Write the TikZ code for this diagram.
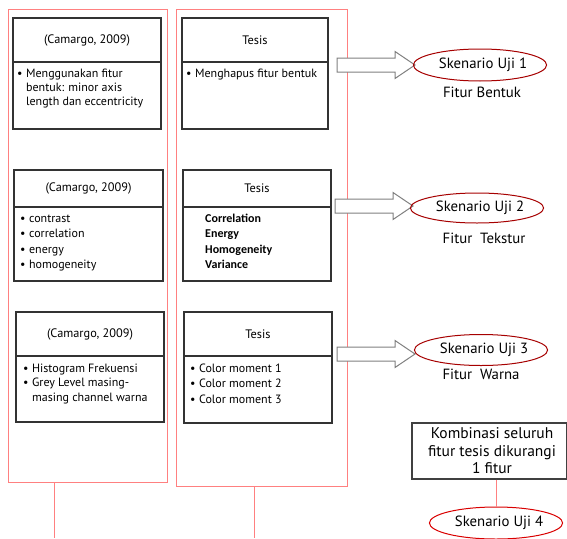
\documentclass[tikz,border=0pt]{standalone}
\usepackage{fontspec}
\setmainfont{PT Sans}
\newfontfamily\calib{Carlito}
\usetikzlibrary{shapes.geometric}
\begin{document}
\begin{tikzpicture}[x=1pt,y=-1pt,
  frame/.style={draw=red!50, line width=1pt, rectangle, inner sep=0pt},
  redline/.style={draw=red!50, line width=1pt},
  hdr/.style={draw=black!80, line width=1.2pt, rectangle, inner sep=0pt, font=\fontsize{12.3}{14}\selectfont},
  bodybox/.style={draw=black!80, line width=1.2pt, rectangle, inner sep=0pt},
  bodytext/.style={anchor=base west, inner sep=0pt},
  ell/.style={draw=red!65!black, line width=1pt, ellipse, inner sep=0pt, font=\fontsize{14.8}{16}\selectfont},
  ellb/.style={ell, draw=red!85!black},
  lbl/.style={inner sep=0pt, font=\fontsize{14.8}{16}\selectfont},
  barrow/.style={draw=black!50, line width=1pt, fill=white},
  kbox/.style={draw=black!75, line width=1.2pt, rectangle, inner sep=0pt, align=center, font=\fontsize{15.5}{17.5}\selectfont}
]
\useasboundingbox (0,0) rectangle (567,538);

% frames
\node[frame, minimum width=159, minimum height=473] (fl) at (87.5,245.5) {};
\node[frame, minimum width=171, minimum height=477] (fm) at (261.5,247.5) {};
\coordinate (bl) at (54,538);
\coordinate (bm) at (254,538);
\draw[redline] (fl.south -| bl) -- (bl);
\draw[redline] (fm.south -| bm) -- (bm);

% row 1
\node[hdr, minimum width=148, minimum height=44] (h1) at (87,40) {(Camargo, 2009)};
\node[bodybox, minimum width=148, minimum height=67] (b1) at (87,95.5) {};
\node[bodytext] (t1) at (17,77) {\fontsize{12}{14}\selectfont\begin{tabular}[t]{@{}l@{\hspace{3.5pt}}l@{}}•&Menggunakan fitur\\&bentuk: minor axis\\&length dan eccentricity\end{tabular}};

\node[hdr, minimum width=146, minimum height=44] (h2) at (255,40) {Tesis};
\node[bodybox, minimum width=146, minimum height=67] (b2) at (255,95.5) {};
\node[bodytext] (t2) at (186,77) {\fontsize{12}{14}\selectfont\begin{tabular}[t]{@{}l@{\hspace{3.5pt}}l@{}}•&Menghapus fitur bentuk\end{tabular}};

% row 2
\node[hdr, minimum width=149, minimum height=37] (h3) at (88.5,188.5) {(Camargo, 2009)};
\node[bodybox, minimum width=149, minimum height=74] (b3) at (88.5,244) {};
\node[bodytext] (t3) at (20,222) {\fontsize{12}{15.5}\selectfont\begin{tabular}[t]{@{}l@{\hspace{3.5pt}}l@{}}•&contrast\\•&correlation\\•&energy\\•&homogeneity\end{tabular}};

\node[hdr, minimum width=148, minimum height=37] (h4) at (257,188.5) {Tesis};
\node[bodybox, minimum width=148, minimum height=74] (b4) at (257,244) {};
\node[bodytext] (t4) at (205,222) {\calib\bfseries\fontsize{12}{15.5}\selectfont\begin{tabular}[t]{@{}l@{}}Correlation\\Energy\\Homogeneity\\Variance\end{tabular}};

% row 3
\node[hdr, minimum width=148, minimum height=44] (h5) at (90,334) {(Camargo, 2009)};
\node[bodybox, minimum width=148, minimum height=66] (b5) at (90,389) {};
\node[bodytext] (t5) at (23,372) {\fontsize{12}{14.5}\selectfont\begin{tabular}[t]{@{}l@{\hspace{3.5pt}}l@{}}•&Histogram Frekuensi\\•&Grey Level masing-\\&masing channel warna\end{tabular}};

\node[hdr, minimum width=148, minimum height=44] (h6) at (258,334) {Tesis};
\node[bodybox, minimum width=148, minimum height=67] (b6) at (258,389.5) {};
\node[bodytext] (t6) at (190,372) {\fontsize{12}{15.5}\selectfont\begin{tabular}[t]{@{}l@{\hspace{3.5pt}}l@{}}•&Color moment 1\\•&Color moment 2\\•&Color moment 3\end{tabular}};

% block arrows
\coordinate (a1) at (337,65);
\coordinate (a2) at (335,206);
\coordinate (a3) at (337,354);
\foreach \a in {a1,a2,a3}{
  \draw[barrow] (\a) ++(0,-7) -- ++(58,0) -- ++(0,-6.5) -- ++(20,13.5) -- ++(-20,13.5) -- ++(0,-6.5) -- ++(-58,0) -- cycle;
}

% ellipses
\node[ell, minimum width=126, minimum height=32] (e1) at (480,65) {\hspace*{6pt}Skenario Uji 1};
\node[ell, minimum width=128, minimum height=30] (e2) at (477,208) {\hspace*{6pt}Skenario Uji 2};
\node[ell, minimum width=127, minimum height=31] (e3) at (481,350) {\hspace*{6pt}Skenario Uji 3};
\node[ellb, minimum width=127, minimum height=32] (e4) at (496,523) {\hspace*{6pt}Skenario Uji 4};

\node[lbl] (f1) at (482,92) {Fitur Bentuk};
\node[lbl] (f2) at (484,238) {Fitur\ \ Tekstur};
\node[lbl] (f3) at (481,374) {Fitur\ \ Warna};

% box 4
\node[kbox, minimum width=155, minimum height=56] (k) at (489.5,451) {\hspace*{5pt}Kombinasi seluruh\\\hspace*{5pt}fitur tesis dikurangi\\\hspace*{5pt}1 fitur};
\draw[redline] (e4.north |- k.south) -- (e4.north);
\end{tikzpicture}
\end{document}
